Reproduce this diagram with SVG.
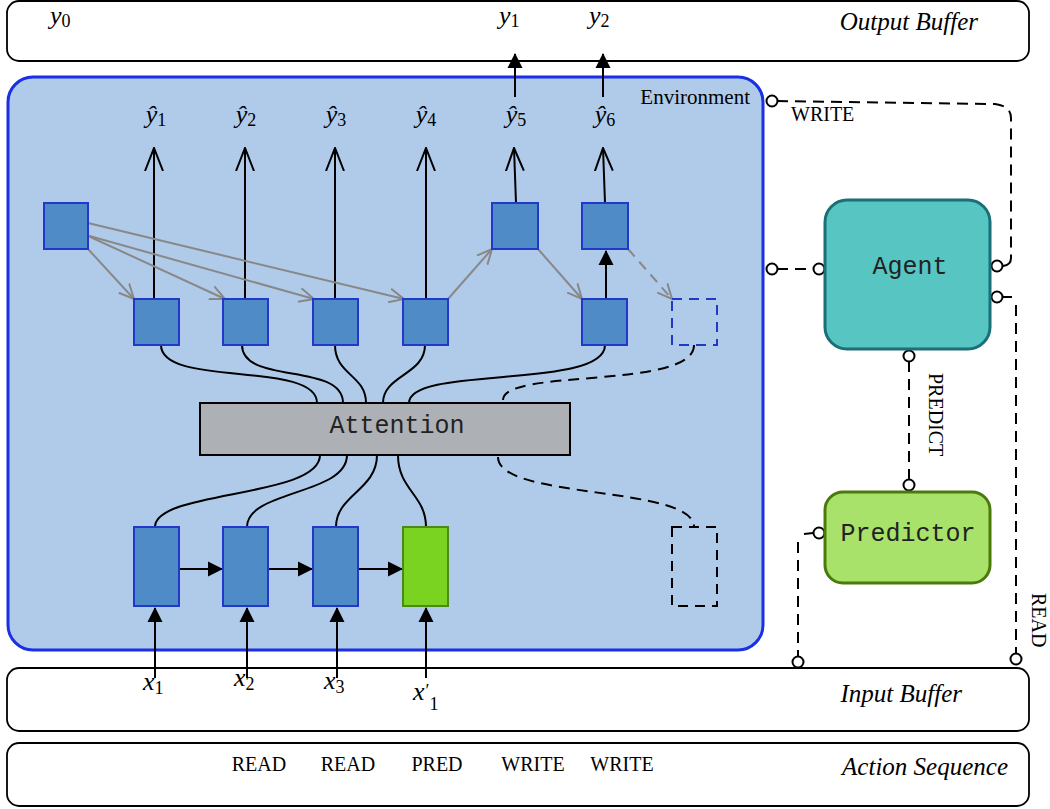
<svg xmlns="http://www.w3.org/2000/svg" width="1050" height="809" viewBox="0 0 1050 809">
<style>
.buffer{fill:#fff;stroke:#000;stroke-width:1.8}
.node{fill:#4f8bc6;stroke:#2238c8;stroke-width:2}
.wire{fill:none;stroke:#000;stroke-width:2}
.gray{fill:none;stroke:#888;stroke-width:2}
.dash{fill:none;stroke:#000;stroke-width:2;stroke-dasharray:11 7}
.port{fill:#fff;stroke:#000;stroke-width:2}
.math{font-family:"Liberation Serif",serif;font-style:italic;font-size:26px}
.sub{font-family:"Liberation Serif",serif;font-style:normal;font-size:18px}
.lbl{font-family:"Liberation Serif",serif;font-size:20px}
.buf{font-family:"Liberation Serif",serif;font-style:italic;font-size:25px}
.mono{font-family:"Liberation Mono",monospace;font-size:25px}
</style>
<defs>
<marker id="openv" markerUnits="userSpaceOnUse" viewBox="0 0 24 20" refX="23" refY="10" markerWidth="24" markerHeight="20" orient="auto"><path d="M0,1 L23,10 L0,19" fill="none" stroke="#000" stroke-width="2"/></marker>
<marker id="grayv" markerUnits="userSpaceOnUse" viewBox="0 0 16 16" refX="15" refY="8" markerWidth="16" markerHeight="16" orient="auto"><path d="M0,1 L15,8 L0,15" fill="none" stroke="#888" stroke-width="2"/></marker>
<marker id="fill" markerUnits="userSpaceOnUse" viewBox="0 0 16 16" refX="14" refY="8" markerWidth="16" markerHeight="16" orient="auto"><path d="M0,0.5 L15,8 L0,15.5 Z" fill="#000"/></marker>
</defs>

<g id="output-buffer">
<rect class="buffer" x="7" y="1" width="1022" height="60" rx="12"/>
<text class="math" x="50" y="24">y<tspan class="sub" dy="3">0</tspan></text>
<text class="math" x="499" y="24">y<tspan class="sub" dy="3">1</tspan></text>
<text class="math" x="589" y="24">y<tspan class="sub" dy="3">2</tspan></text>
<text class="buf" x="978" y="30" text-anchor="end">Output Buffer</text>
</g>

<g id="input-buffer">
<rect class="buffer" x="7" y="668" width="1022" height="63" rx="12"/>
<text class="buf" x="962" y="702" text-anchor="end">Input Buffer</text>
</g>

<g id="action-sequence">
<rect class="buffer" x="7" y="743" width="1022" height="63" rx="12"/>
<text class="buf" x="1008" y="775" text-anchor="end">Action Sequence</text>
<text class="lbl" x="259" y="771" text-anchor="middle">READ</text>
<text class="lbl" x="348" y="771" text-anchor="middle">READ</text>
<text class="lbl" x="437" y="771" text-anchor="middle">PRED</text>
<text class="lbl" x="533" y="771" text-anchor="middle">WRITE</text>
<text class="lbl" x="622" y="771" text-anchor="middle">WRITE</text>
</g>

<g id="environment">
<rect x="8" y="77" width="755" height="573" rx="25" fill="#b0cbea" stroke="#1a2fe6" stroke-width="3"/>
<text class="lbl" x="750" y="104" text-anchor="end" style="font-size:21px">Environment</text>
</g>

<g id="labels">
<text class="math" x="156" y="123" text-anchor="middle">ŷ<tspan class="sub" dy="3">1</tspan></text>
<text class="math" x="246" y="123" text-anchor="middle">ŷ<tspan class="sub" dy="3">2</tspan></text>
<text class="math" x="336" y="123" text-anchor="middle">ŷ<tspan class="sub" dy="3">3</tspan></text>
<text class="math" x="426" y="123" text-anchor="middle">ŷ<tspan class="sub" dy="3">4</tspan></text>
<text class="math" x="516" y="123" text-anchor="middle">ŷ<tspan class="sub" dy="3">5</tspan></text>
<text class="math" x="605" y="123" text-anchor="middle">ŷ<tspan class="sub" dy="3">6</tspan></text>
<text class="math" x="143" y="690">x<tspan class="sub" dy="4">1</tspan></text>
<text class="math" x="234" y="686">x<tspan class="sub" dy="4">2</tspan></text>
<text class="math" x="324" y="689">x<tspan class="sub" dy="4">3</tspan></text>
<text class="math" x="413" y="700">x<tspan class="sub" dx="1" dy="-3">′</tspan><tspan class="sub" dy="13">1</tspan></text>
</g>

<g id="connectors">
<path class="wire" d="M154,299 L154,148" marker-end="url(#openv)"/>
<path class="wire" d="M245,299 L245,148" marker-end="url(#openv)"/>
<path class="wire" d="M335,299 L335,148" marker-end="url(#openv)"/>
<path class="wire" d="M426,299 L426,148" marker-end="url(#openv)"/>
<path class="wire" d="M516,203 L514,148" marker-end="url(#openv)"/>
<path class="wire" d="M605,203 L603,148" marker-end="url(#openv)"/>
<path class="wire" d="M515,97 L515,54" marker-end="url(#fill)"/>
<path class="wire" d="M603,97 L603,54" marker-end="url(#fill)"/>
<path class="gray" d="M88,249 L134,299" marker-end="url(#grayv)"/>
<path class="gray" d="M86,235 L225,299" marker-end="url(#grayv)"/>
<path class="gray" d="M86,235 L314,299" marker-end="url(#grayv)"/>
<path class="gray" d="M88,223 L404,299" marker-end="url(#grayv)"/>
<path class="gray" d="M448,299 L492,249" marker-end="url(#grayv)"/>
<path class="gray" d="M538,249 L582,299" marker-end="url(#grayv)"/>
<path class="gray" d="M628,249 L672,299" stroke-dasharray="10 7" marker-end="url(#grayv)"/>
<path class="wire" d="M606,299 L606,251" marker-end="url(#fill)"/>
<path class="wire" d="M161,345 C161,388 317,360 317,403"/>
<path class="wire" d="M242,345 C242,385 343,362 343,403"/>
<path class="wire" d="M335,345 C335,375 366,375 366,403"/>
<path class="wire" d="M425,345 C425,375 383,375 383,403"/>
<path class="wire" d="M605,345 C605,390 409,365 409,403"/>
<path class="dash" d="M694,345 C694,390 503,368 503,400"/>
<path class="wire" d="M320,455 C320,498 155,490 155,527"/>
<path class="wire" d="M347,455 C347,495 247,490 247,527"/>
<path class="wire" d="M377,455 C377,490 336,495 336,527"/>
<path class="wire" d="M398,455 C398,490 426,495 426,527"/>
<path class="dash" d="M498,457 C498,500 694,485 694,527"/>
<path class="wire" d="M179,569 L222,569" marker-end="url(#fill)"/>
<path class="wire" d="M268,569 L312,569" marker-end="url(#fill)"/>
<path class="wire" d="M358,569 L402,569" marker-end="url(#fill)"/>
<path class="wire" d="M155,678 L155,608" marker-end="url(#fill)"/>
<path class="wire" d="M247,678 L247,608" marker-end="url(#fill)"/>
<path class="wire" d="M337,678 L337,608" marker-end="url(#fill)"/>
<path class="wire" d="M426,678 L426,608" marker-end="url(#fill)"/>
<path class="dash" d="M777,101 L995,104 Q1011,106 1011,118 L1011,258"/>
<path class="wire" d="M1011,258 Q1011,265 1003,266"/>
<path class="dash" d="M777,269 L814,269"/>
<path class="wire" d="M1003,297 L1012,297"/>
<path class="dash" d="M1016,305 L1016,653"/>
<path class="dash" d="M909,361 L909,480"/>
<path class="wire" d="M813,533 L804,534"/>
<path class="dash" d="M798,542 L798,656"/>
<circle class="port" cx="772" cy="101" r="5.5"/>
<circle class="port" cx="997" cy="266" r="5.5"/>
<circle class="port" cx="772" cy="269" r="5.5"/>
<circle class="port" cx="819" cy="269" r="5.5"/>
<circle class="port" cx="997" cy="297" r="5.5"/>
<circle class="port" cx="1016" cy="659" r="5.5"/>
<circle class="port" cx="909" cy="356" r="5.5"/>
<circle class="port" cx="909" cy="485" r="5.5"/>
<circle class="port" cx="819" cy="533" r="5.5"/>
<circle class="port" cx="798" cy="662" r="5.5"/>
<text class="lbl" x="791" y="121">WRITE</text>
<text class="lbl" transform="translate(929,373) rotate(90)">PREDICT</text>
<text class="lbl" transform="translate(1032,593) rotate(90)">READ</text>
</g>

<g id="node-left"><rect class="node" x="44" y="203" width="44" height="46"/></g>
<g id="node-h1"><rect class="node" x="134" y="299" width="45" height="46"/></g>
<g id="node-h2"><rect class="node" x="223" y="299" width="45" height="46"/></g>
<g id="node-h3"><rect class="node" x="313" y="299" width="45" height="46"/></g>
<g id="node-h4"><rect class="node" x="403" y="299" width="45" height="46"/></g>
<g id="node-h5"><rect class="node" x="582" y="299" width="45" height="46"/></g>
<g id="node-dashed-top"><rect x="672" y="299" width="45" height="46" fill="none" stroke="#2238c8" stroke-width="2" stroke-dasharray="10 7"/></g>
<g id="node-top5"><rect class="node" x="492" y="203" width="46" height="46"/></g>
<g id="node-top6"><rect class="node" x="582" y="203" width="46" height="46"/></g>

<g id="attention">
<rect x="200" y="403" width="370" height="52" fill="#adb0b4" stroke="#000" stroke-width="2"/>
<text class="mono" x="397" y="433" text-anchor="middle" fill="#222">Attention</text>
</g>

<g id="enc1"><rect class="node" x="134" y="527" width="45" height="79"/></g>
<g id="enc2"><rect class="node" x="223" y="527" width="45" height="79"/></g>
<g id="enc3"><rect class="node" x="313" y="527" width="45" height="79"/></g>
<g id="enc4"><rect x="403" y="527" width="45" height="79" fill="#7bd321" stroke="#4b8a14" stroke-width="2"/></g>
<g id="node-dashed-bottom"><rect x="672" y="527" width="45" height="79" fill="none" stroke="#000" stroke-width="2" stroke-dasharray="10 7"/></g>

<g id="agent">
<rect x="825" y="200" width="165" height="149" rx="22" fill="#57c5c1" stroke="#1a6f78" stroke-width="3"/>
<text class="mono" x="910" y="274" text-anchor="middle" fill="#222">Agent</text>
</g>

<g id="predictor">
<rect x="825" y="492" width="165" height="91" rx="18" fill="#a9e26a" stroke="#4b7a0c" stroke-width="3"/>
<text class="mono" x="908" y="541" text-anchor="middle" fill="#222">Predictor</text>
</g>
</svg>
